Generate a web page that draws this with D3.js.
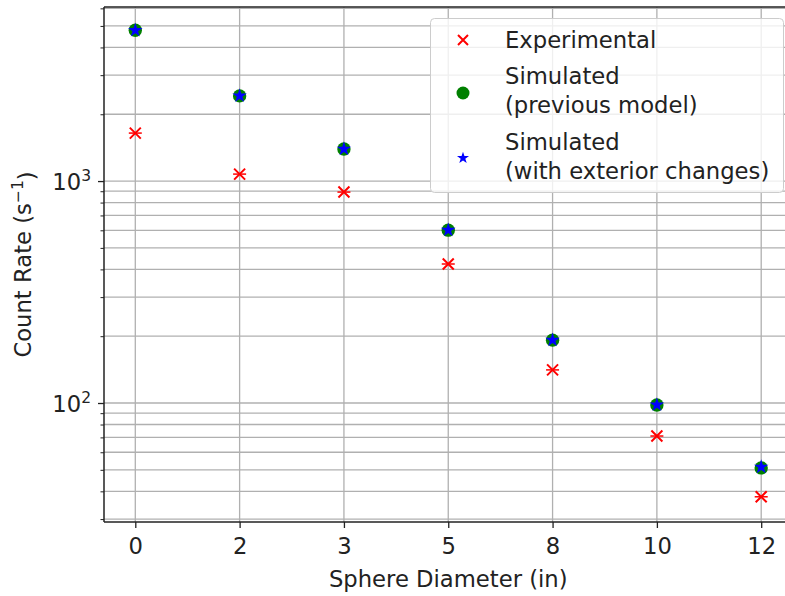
<!DOCTYPE html>
<html><head><meta charset="utf-8">
<script src="https://cdn.jsdelivr.net/npm/d3@7"></script>
<style>body{margin:0;background:#fff;} text{font-family:"DejaVu Sans",sans-serif;fill:#222;}</style>
</head><body>
<svg id="c" width="785" height="596"></svg>
<script>
const categories = ["0","2","3","5","8","10","12"];
const experimental = [1645, 1075, 892, 423, 141, 71, 37.8];
const simPrevious = [4780, 2420, 1395, 601, 192, 98, 51];
const simExterior = [4780, 2420, 1395, 601, 192, 98, 51.5];
const seriesLabels = [["Experimental"], ["Simulated","(previous model)"], ["Simulated","(with exterior changes)"]];
const yMajorTicks = [100, 1000];

const FS = 22.7, FSS = 15.5;
const svg = d3.select("#c");
const L = 104, R = 792.5, T = 7, B = 522;
const x = d3.scaleLinear().domain([-0.3, 6.3]).range([L, R]);
const y = d3.scaleLog().domain([29.1, 6085]).range([B, T]);

// minor ticks
const minor = [];
for (const base of [10, 100, 1000]) for (let k = 2; k <= 9; k++) { const v = base * k; if (v >= 29.1 && v <= 6085) minor.push(v); }

const g = svg.append("g");
g.selectAll(".gy").data(minor.concat(yMajorTicks)).enter().append("line")
  .attr("x1", L).attr("x2", R).attr("y1", d => y(d)).attr("y2", d => y(d))
  .attr("stroke", "#b0b0b0").attr("stroke-width", 1.3);
g.selectAll(".gx").data(categories).enter().append("line")
  .attr("x1", (d,i) => x(i)).attr("x2", (d,i) => x(i)).attr("y1", T).attr("y2", B)
  .attr("stroke", "#b0b0b0").attr("stroke-width", 1.3);

const xAxis = d3.axisBottom(x).tickValues(d3.range(categories.length)).tickFormat(i => categories[i]).tickSize(6).tickPadding(10);
const ax = svg.append("g").attr("transform", `translate(0,${B})`).call(xAxis);
ax.select(".domain").remove();
ax.selectAll("text").attr("font-size", FS).attr("fill", "#222").style("font-family", "DejaVu Sans");
ax.selectAll("line").attr("stroke", "#222").attr("stroke-width", 1.3);

const yAxis = d3.axisLeft(y).tickValues(yMajorTicks).tickFormat(() => "").tickSize(6);
const ay = svg.append("g").attr("transform", `translate(${L},0)`).call(yAxis);
ay.select(".domain").remove();
ay.selectAll("line").attr("stroke", "#222").attr("stroke-width", 1.3);
ay.selectAll(".tick").each(function(d) {
  const t = d3.select(this).append("text").attr("x", -13).attr("dy", "0.36em").attr("text-anchor", "end").attr("font-size", FS).attr("fill", "#222");
  t.append("tspan").text("10");
  t.append("tspan").attr("dy", "-0.55em").attr("font-size", FSS).text(String(Math.round(Math.log10(d))));
});
const aym = svg.append("g").attr("transform", `translate(${L},0)`).call(d3.axisLeft(y).tickValues(minor).tickFormat(() => "").tickSize(3.5));
aym.select(".domain").remove();
aym.selectAll("line").attr("stroke", "#222").attr("stroke-width", 1);

svg.append("line").attr("x1", L).attr("x2", L).attr("y1", T).attr("y2", B).attr("stroke", "#222").attr("stroke-width", 1.5);
svg.append("line").attr("x1", L).attr("x2", R).attr("y1", B).attr("y2", B).attr("stroke", "#222").attr("stroke-width", 1.5);
svg.append("line").attr("x1", L).attr("x2", R).attr("y1", T).attr("y2", T).attr("stroke", "#222").attr("stroke-width", 1.5);

svg.append("text").attr("x", (L + R) / 2).attr("y", 587).attr("text-anchor", "middle").attr("font-size", FS).text("Sphere Diameter (in)");
const yl = svg.append("text").attr("transform", `translate(31,${(T + B) / 2}) rotate(-90)`).attr("text-anchor", "middle").attr("font-size", FS);
yl.append("tspan").text("Count Rate (s");
yl.append("tspan").attr("dy", "-0.5em").attr("font-size", FSS).text("−1");
yl.append("tspan").attr("dy", "0.5em").text(")");

const star = d3.symbol().type(d3.symbolStar);
function drawX(sel, cx, cy, s, bar) {
  const p = sel.append("g").attr("transform", `translate(${cx},${cy})`);
  p.append("path").attr("d", `M${-s},${-s}L${s},${s}M${-s},${s}L${s},${-s}`).attr("stroke", "red").attr("stroke-width", 2).attr("fill", "none");
  if (bar) {
    p.append("path").attr("d", `M${-s - 1},0L${s + 1},0`).attr("stroke", "red").attr("stroke-width", 1.5);
  }
}
const pts = svg.append("g");
experimental.forEach((v, i) => drawX(pts, x(i), y(v), 5.5, true));
pts.selectAll(".sp").data(simPrevious).enter().append("circle")
  .attr("cx", (d, i) => x(i)).attr("cy", d => y(d)).attr("r", 6.7).attr("fill", "green");
pts.selectAll(".se").data(simExterior).enter().append("path")
  .attr("transform", (d, i) => `translate(${x(i)},${y(d)})`).attr("d", star.size(65)()).attr("fill", "blue");

const lg = svg.append("g");
lg.append("rect").attr("x", 430.5).attr("y", 18.5).attr("width", 353).attr("height", 174).attr("rx", 4)
  .attr("fill", "white").attr("fill-opacity", 0.8).attr("stroke", "#cccccc");
const tx = 505;
drawX(lg, 463, 40, 5, false);
lg.append("circle").attr("cx", 463).attr("cy", 93).attr("r", 6.5).attr("fill", "green");
lg.append("path").attr("transform", "translate(463,158)").attr("d", star.size(45)()).attr("fill", "blue");
const rows = [[40], [76, 105], [142, 171]];
seriesLabels.forEach((lines, i) => lines.forEach((s, j) => {
  lg.append("text").attr("x", tx).attr("y", rows[i][j]).attr("dy", "0.36em").attr("font-size", FS).text(s);
}));
</script>
</body></html>
